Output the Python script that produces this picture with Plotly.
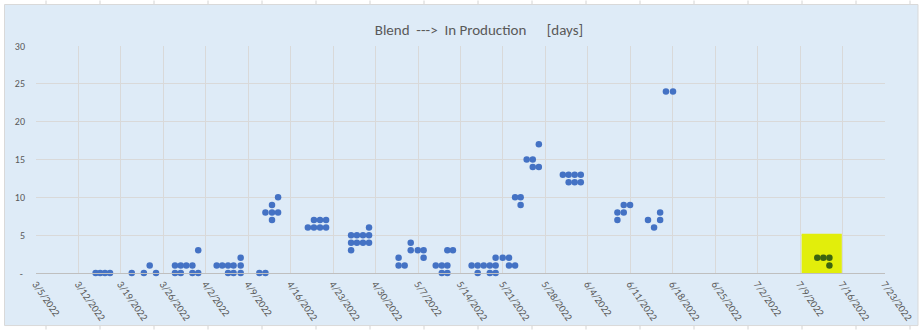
import plotly.graph_objects as go

# Lots that reached production: completion timestamp and blend -> production lead time (days)
lot_dates = [
    "2022-03-14 20:00", "2022-03-15 14:00", "2022-03-16 09:00", "2022-03-17 05:00",
    "2022-03-20 19:00", "2022-03-22 19:00", "2022-03-23 18:00", "2022-03-24 19:00",
    "2022-03-27 22:00", "2022-03-27 22:00", "2022-03-28 21:00", "2022-03-28 21:00",
    "2022-03-29 19:00", "2022-03-30 19:00", "2022-03-30 19:00", "2022-03-31 18:00", "2022-03-31 18:00",
    "2022-04-03 19:00", "2022-04-04 17:00", "2022-04-05 16:00", "2022-04-05 16:00",
    "2022-04-06 14:00", "2022-04-06 14:00", "2022-04-07 18:00", "2022-04-07 18:00", "2022-04-07 18:00",
    "2022-04-10 20:00", "2022-04-11 20:00", "2022-04-11 20:00",
    "2022-04-12 22:00", "2022-04-12 22:00", "2022-04-12 22:00", "2022-04-13 22:00", "2022-04-13 22:00",
    "2022-04-18 20:00", "2022-04-19 20:00", "2022-04-19 20:00", "2022-04-20 20:00", "2022-04-20 20:00",
    "2022-04-21 20:00", "2022-04-21 20:00",
    "2022-04-25 23:00", "2022-04-25 23:00", "2022-04-25 23:00", "2022-04-26 22:00", "2022-04-26 22:00",
    "2022-04-27 22:00", "2022-04-27 22:00", "2022-04-28 22:00", "2022-04-28 22:00", "2022-04-28 22:00",
    "2022-05-03 19:00", "2022-05-03 19:00", "2022-05-04 19:00", "2022-05-05 19:00", "2022-05-05 19:00",
    "2022-05-06 23:00", "2022-05-07 22:00", "2022-05-07 22:00",
    "2022-05-09 22:00", "2022-05-10 22:00", "2022-05-10 22:00", "2022-05-11 20:00", "2022-05-11 20:00",
    "2022-05-11 20:00", "2022-05-12 18:00",
    "2022-05-15 20:00", "2022-05-16 20:00", "2022-05-16 20:00", "2022-05-17 20:00", "2022-05-18 20:00",
    "2022-05-18 20:00", "2022-05-19 19:00", "2022-05-19 19:00", "2022-05-19 19:00", "2022-05-20 23:00",
    "2022-05-22 00:00", "2022-05-22 00:00",
    "2022-05-23 00:00", "2022-05-23 00:00", "2022-05-23 22:00", "2022-05-23 22:00",
    "2022-05-24 22:00", "2022-05-25 22:00", "2022-05-25 22:00", "2022-05-26 22:00", "2022-05-26 22:00",
    "2022-05-30 21:00", "2022-05-31 20:00", "2022-05-31 20:00", "2022-06-01 20:00", "2022-06-01 20:00",
    "2022-06-02 20:00", "2022-06-02 20:00",
    "2022-06-08 21:00", "2022-06-08 21:00", "2022-06-09 22:00", "2022-06-09 22:00", "2022-06-10 23:00",
    "2022-06-13 22:00", "2022-06-14 22:00", "2022-06-15 22:00", "2022-06-15 22:00",
    "2022-06-16 21:00", "2022-06-18 01:00",
]
lead_days = [
    0, 0, 0, 0,
    0, 0, 1, 0,
    1, 0, 1, 0,
    1, 1, 0, 0, 3,
    1, 1, 1, 0,
    1, 0, 1, 0, 2,
    0, 0, 8,
    8, 9, 7, 8, 10,
    6, 6, 7, 6, 7,
    6, 7,
    5, 4, 3, 5, 4,
    5, 4, 6, 5, 4,
    2, 1, 1, 4, 3,
    3, 3, 2,
    1, 1, 0, 1, 0,
    3, 3,
    1, 1, 0, 1, 1,
    0, 1, 0, 2, 2,
    2, 1,
    1, 10, 10, 9,
    15, 15, 14, 14, 17,
    13, 13, 12, 13, 12,
    13, 12,
    8, 7, 8, 9, 9,
    7, 6, 7, 8,
    24, 24,
]

# Most recent lots, marked with a highlighter
recent_dates = ["2022-07-11 20:00", "2022-07-12 20:00", "2022-07-13 20:00", "2022-07-13 20:00"]
recent_days = [2, 2, 2, 1]

y_ticks = [0, 5, 10, 15, 20, 25, 30]
y_tick_text = ["-\u00a0", "5", "10", "15", "20", "25", "30"]

title_text = ("Blend\u00a0\u00a0--->\u00a0\u00a0In Production"
              "\u00a0\u00a0\u00a0\u00a0\u00a0\u00a0[days]")

# ---- figure geometry (pixels) ----
W, H = 922, 330
ML, MR, MT, MB = 36, 37, 45.6, 56.7
PW, PH = W - ML - MR, H - MT - MB

def px_x(px):
    return (px - ML) / PW

def px_y(py):
    return (H - MB - py) / PH

BG = "#DEEBF7"
GRID = "#D9D9D9"
TEXT = "#595959"
DOT = "#4472C4"
FONT = "Liberation Sans Narrow, Carlito, Arial Narrow, sans-serif"

fig = go.Figure()

fig.add_trace(go.Scatter(
    x=lot_dates, y=lead_days, mode="markers",
    marker=dict(color=DOT, size=6.5, line=dict(width=0)),
    showlegend=False, hoverinfo="x+y", cliponaxis=False,
))
fig.add_trace(go.Scatter(
    x=recent_dates, y=recent_days, mode="markers",
    marker=dict(color="#3B6410", size=6.5, line=dict(width=0)),
    showlegend=False, hoverinfo="x+y", cliponaxis=False,
))

shapes = []
# chart box on the sheet
shapes.append(dict(type="rect", xref="paper", yref="paper", layer="below",
                   x0=px_x(4.5), x1=px_x(918), y0=px_y(326), y1=px_y(4),
                   fillcolor=BG, line=dict(color=GRID, width=1)))
# sheet column borders peeking out above and below the chart box
for cx in range(46, 922, 54):
    shapes.append(dict(type="line", xref="paper", yref="paper", layer="below",
                       x0=px_x(cx), x1=px_x(cx), y0=px_y(0), y1=px_y(3.5),
                       line=dict(color="#D4D4D4", width=1)))
    shapes.append(dict(type="line", xref="paper", yref="paper", layer="below",
                       x0=px_x(cx), x1=px_x(cx), y0=px_y(326.5), y1=px_y(330),
                       line=dict(color="#D4D4D4", width=1)))
# highlighter stroke over the latest lots (between gridlines and markers)
shapes.append(dict(type="rect", xref="x", yref="y", layer="between",
                   x0="2022-07-09 06:00", x1="2022-07-15 21:00", y0=-0.25, y1=5.18,
                   fillcolor="#E2EE0B", line=dict(width=0)))

fig.update_layout(
    width=W, height=H,
    margin=dict(l=ML, r=MR, t=MT, b=MB, pad=0),
    paper_bgcolor="white",
    plot_bgcolor=BG,
    template="none",
    shapes=shapes,
    font=dict(family=FONT, color=TEXT, size=10),
    title=dict(text=title_text, xref="container", yref="container",
               x=479 / W, xanchor="center", y=1 - 29.5 / H, yanchor="middle",
               font=dict(family=FONT, size=15, color=TEXT)),
    xaxis=dict(
        type="date",
        range=["2022-03-05", "2022-07-23"],
        tick0="2022-03-05", dtick=7 * 86400000,
        tickformat="%-m/%-d/%Y",
        tickangle=55,
        showgrid=True, gridcolor=GRID, gridwidth=1,
        showline=True, linecolor="#BFBFBF", linewidth=1,
        ticks="", zeroline=False, automargin=False,
        tickfont=dict(family=FONT, size=10.5, color=TEXT),
    ),
    yaxis=dict(
        range=[0, 30],
        tickvals=y_ticks, ticktext=y_tick_text,
        showgrid=True, gridcolor=GRID, gridwidth=1,
        showline=False, zeroline=False, ticks="",
        ticklabelstandoff=10,
        automargin=False,
        tickfont=dict(family=FONT, size=10, color=TEXT),
    ),
)

fig.write_html("out.html")
